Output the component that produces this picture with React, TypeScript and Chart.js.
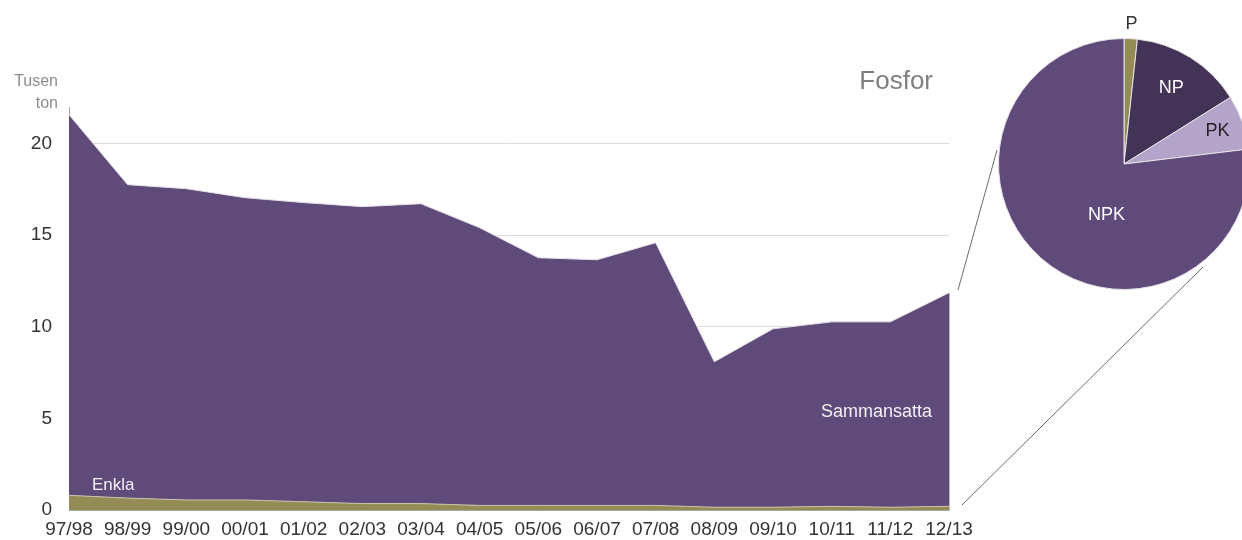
import { useEffect, useRef } from "react";
import { Chart, registerables } from "chart.js";

Chart.register(...registerables);

const seasons = [
  "97/98", "98/99", "99/00", "00/01", "01/02", "02/03", "03/04", "04/05",
  "05/06", "06/07", "07/08", "08/09", "09/10", "10/11", "11/12", "12/13",
];
const enkla = [0.8, 0.65, 0.55, 0.55, 0.45, 0.35, 0.35, 0.25, 0.25, 0.25, 0.25, 0.15, 0.15, 0.2, 0.15, 0.2];
const sammansatta = [20.78, 17.11, 16.99, 16.5, 16.33, 16.21, 16.37, 15.16, 13.52, 13.41, 14.34, 7.94, 9.74, 10.07, 10.12, 11.66];
const yTicks = [0, 5, 10, 15, 20];

const pieLabels = ["P", "NP", "PK", "NPK"];
const pieValues = [1.7, 14.4, 7.0, 76.9];
const pieColors = ["#958b54", "#433356", "#b4a4c9", "#5f4a7a"];
const pieTextColors = ["#333333", "#ffffff", "#222222", "#ffffff"];
// label placement: angle from north (deg, null = slice middle) and radius fraction
const pieLabelAngle: (number | null)[] = [null, null, null, 199];
const pieLabelRadius = [1.12, 0.71, 0.79, 0.43];

const FONT = "'Liberation Sans', Arial, sans-serif";
const OLIVE = "#958b54";
const PURPLE = "#5f4a7a";

const areaDecor = {
  id: "areaDecor",
  afterDraw(chart: any) {
    const { ctx, scales } = chart;
    const x = scales.x;
    const y = scales.y;
    ctx.save();
    // right edge of area
    const lastI = seasons.length - 1;
    const xr = x.getPixelForValue(lastI);
    ctx.strokeStyle = "#bdbdbd";
    ctx.lineWidth = 1;
    ctx.beginPath();
    ctx.moveTo(xr + 0.5, y.getPixelForValue(enkla[lastI] + sammansatta[lastI]));
    ctx.lineTo(xr + 0.5, y.getPixelForValue(0));
    ctx.stroke();

    // unit label
    ctx.fillStyle = "#8c8c8c";
    ctx.font = `16px ${FONT}`;
    ctx.textAlign = "right";
    ctx.textBaseline = "middle";
    ctx.fillText("Tusen", 58, 82);
    ctx.fillText("ton", 58, 104);

    // title
    ctx.fillStyle = "#7f7f7f";
    ctx.font = `26px ${FONT}`;
    ctx.textAlign = "right";
    ctx.fillText("Fosfor", 933, 82);

    // series labels
    ctx.fillStyle = "#f2f0f6";
    ctx.font = `17px ${FONT}`;
    ctx.textAlign = "left";
    ctx.fillText("Enkla", 92, 485);
    ctx.font = `18px ${FONT}`;
    ctx.textAlign = "right";
    ctx.fillText("Sammansatta", 932, 412);

    // connector lines to pie
    ctx.strokeStyle = "#6b6b6b";
    ctx.lineWidth = 1;
    ctx.beginPath();
    ctx.moveTo(958, 290);
    ctx.lineTo(997, 150);
    ctx.moveTo(962, 505);
    ctx.lineTo(1203, 267);
    ctx.stroke();
    ctx.restore();
  },
};

const pieText = {
  id: "pieText",
  afterDraw(chart: any) {
    const { ctx } = chart;
    const meta = chart.getDatasetMeta(0);
    ctx.save();
    ctx.font = `18px ${FONT}`;
    ctx.textAlign = "center";
    ctx.textBaseline = "middle";
    meta.data.forEach((arc: any, i: number) => {
      const p = arc.getProps(["x", "y", "startAngle", "endAngle", "outerRadius"], true);
      const override = pieLabelAngle[i];
      const ang = override === null ? (p.startAngle + p.endAngle) / 2 : (override - 90) * Math.PI / 180;
      const r = p.outerRadius * pieLabelRadius[i];
      ctx.fillStyle = pieTextColors[i];
      ctx.fillText(pieLabels[i], p.x + Math.cos(ang) * r, p.y + Math.sin(ang) * r);
    });
    ctx.restore();
  },
};

export default function App() {
  const areaRef = useRef<HTMLCanvasElement>(null);
  const pieRef = useRef<HTMLCanvasElement>(null);

  useEffect(() => {
    const area = new Chart(areaRef.current!, {
      type: "line",
      data: {
        labels: seasons,
        datasets: [
          {
            label: "Enkla",
            data: enkla,
            backgroundColor: OLIVE,
            borderColor: "#c9c4ae",
            borderWidth: 1,
            pointRadius: 0,
            fill: "origin",
            tension: 0,
          },
          {
            label: "Sammansatta",
            data: sammansatta,
            backgroundColor: PURPLE,
            borderColor: "#e4e0ea",
            borderWidth: 1,
            pointRadius: 0,
            fill: "-1",
            tension: 0,
          },
        ],
      },
      options: {
        animation: false,
        responsive: true,
        maintainAspectRatio: false,
        events: [],
        layout: { padding: { top: 107, right: 293, left: 0, bottom: 0 } },
        plugins: { legend: { display: false }, tooltip: { enabled: false } },
        scales: {
          x: {
            offset: false,
            grid: { display: false, drawTicks: false },
            border: { display: true, color: "#a6a6a6" },
            ticks: {
              color: "#333333",
              font: { family: FONT, size: 19 },
              padding: 8,
              maxRotation: 0,
              autoSkip: false,
            },
            afterFit(s: any) {
              s.height = 30;
            },
          },
          y: {
            stacked: true,
            min: 0,
            max: 22,
            grid: { color: "#dcdcdc", drawTicks: false },
            border: { display: true, color: "#a6a6a6" },
            afterBuildTicks(s: any) {
              s.ticks = yTicks.map((v) => ({ value: v }));
            },
            ticks: {
              color: "#333333",
              font: { family: FONT, size: 19 },
              padding: 17,
            },
            afterFit(s: any) {
              s.width = 69;
            },
          },
        },
      },
      plugins: [areaDecor],
    });

    const pie = new Chart(pieRef.current!, {
      type: "pie",
      data: {
        labels: pieLabels,
        datasets: [
          {
            data: pieValues,
            backgroundColor: pieColors,
            borderColor: "#e6e3ea",
            borderWidth: 1,
          },
        ],
      },
      options: {
        animation: false,
        responsive: true,
        maintainAspectRatio: false,
        events: [],
        layout: { padding: { left: 20, right: 20, top: 38, bottom: 10 } },
        plugins: { legend: { display: false }, tooltip: { enabled: false } },
      },
      plugins: [pieText],
    });

    return () => {
      area.destroy();
      pie.destroy();
    };
  }, []);

  return (
    <div
      style={{
        position: "absolute",
        left: 0,
        top: 0,
        width: 1242,
        height: 540,
        overflow: "hidden",
        background: "#ffffff",
      }}
    >
      <div style={{ position: "absolute", left: 0, top: 0, width: 1242, height: 540 }}>
        <canvas ref={areaRef} />
      </div>
      <div style={{ position: "absolute", left: 978, top: 0, width: 292, height: 300 }}>
        <canvas ref={pieRef} />
      </div>
    </div>
  );
}
